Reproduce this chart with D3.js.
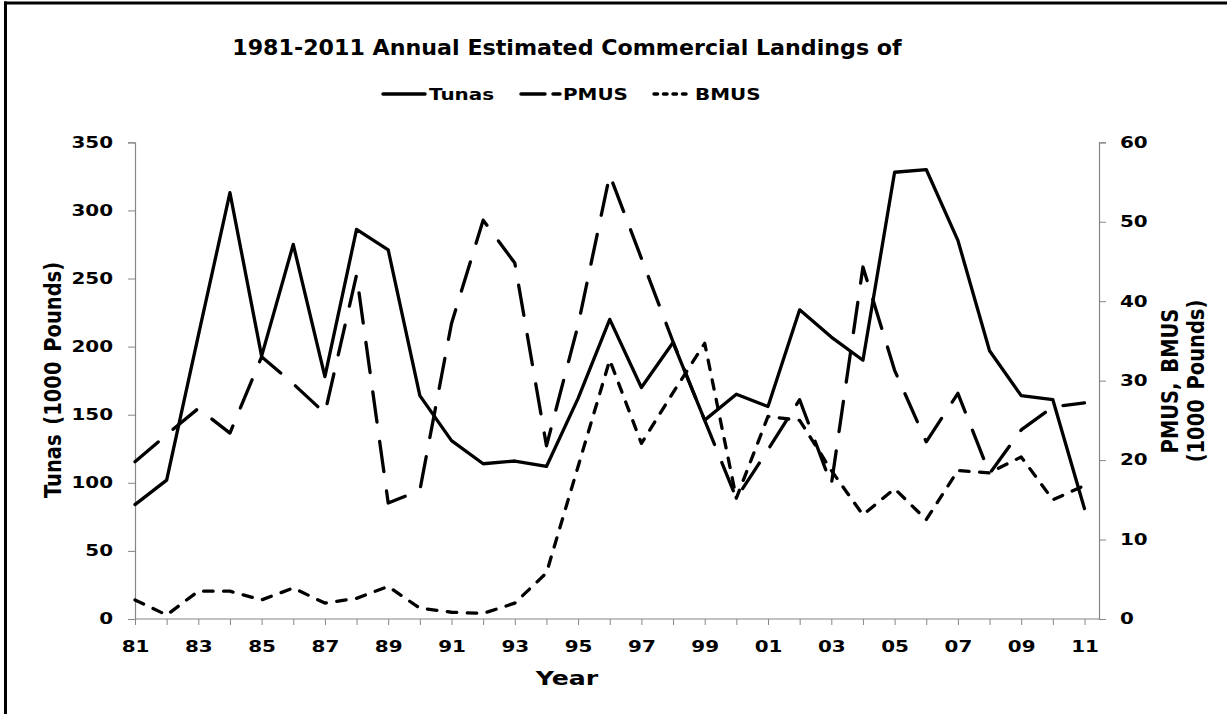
<!DOCTYPE html>
<html>
<head>
<meta charset="utf-8">
<script src="https://cdn.jsdelivr.net/npm/d3@7"></script>
<style>
  html, body { margin: 0; padding: 0; background: #fff; }
  svg { display: block; }
  text { font-family: "DejaVu Sans", Verdana, sans-serif; font-weight: bold; fill: #000; }
</style>
</head>
<body>
<svg id="chart" width="1227" height="714"></svg>
<script>
// ---------------- data ----------------
const years = [1981,1982,1983,1984,1985,1986,1987,1988,1989,1990,1991,1992,1993,1994,1995,1996,
               1997,1998,1999,2000,2001,2002,2003,2004,2005,2006,2007,2008,2009,2010,2011];
const tunas = [84,102,208,313,193,275,178,286,271,164,131,114,116,112,162,220,
               170,203,146,165,156,227,207,190,328,330,278,197,164,161,81];
const pmus  = [19.8,23.2,26.5,23.4,33.0,29.6,25.9,43.3,14.6,16.2,37.2,50.2,44.8,21.8,37.0,55.9,
               45.4,34.9,25.0,15.2,21.3,27.6,16.9,44.3,31.3,22.3,28.4,18.3,23.8,26.7,27.2];
const bmus  = [2.4,0.5,3.5,3.5,2.4,3.9,2.0,2.6,4.1,1.35,0.85,0.7,2.0,5.8,19.2,32.6,
               22.1,28.5,34.7,15.2,25.5,25.0,18.7,13.1,16.4,12.5,18.7,18.4,20.4,15.0,16.8];
const leftTicks  = [0,50,100,150,200,250,300,350];
const rightTicks = [0,10,20,30,40,50,60];
const xTickLabels = ["81","83","85","87","89","91","93","95","97","99","01","03","05","07","09","11"];
const seriesNames = ["Tunas","PMUS","BMUS"];
const titleText = "1981-2011 Annual Estimated Commercial Landings of";

// ---------------- layout ----------------
const SX = 1.33;               // horizontal stretch of the reference glyphs
const plotL = 135, plotR = 1099, plotT = 142.3, plotB = 619;
const axisGray = "#868686";

const svg = d3.select("#chart");

const x = d3.scaleLinear().domain([1981, 2011]).range([plotL, 1084.5]);
const yL = d3.scaleLinear().domain([0, 350]).range([plotB, plotT]);
const yR = d3.scaleLinear().domain([0, 60]).range([plotB, plotT]);

// frame (top & left borders)
svg.append("line").attr("x1", 4).attr("x2", 1227).attr("y1", 3).attr("y2", 3)
   .attr("stroke", "#000").attr("stroke-width", 3);
svg.append("line").attr("x1", 5.5).attr("x2", 5.5).attr("y1", 1.5).attr("y2", 714)
   .attr("stroke", "#000").attr("stroke-width", 3);

function sText(g, str, tx, ty, size, anchor, sx) {
  return g.append("text")
    .attr("transform", `translate(${tx},${ty}) scale(${sx || SX},1)`)
    .attr("text-anchor", anchor || "middle")
    .style("font-size", size + "px")
    .text(str);
}

// title: glyph height as in reference, stretched to the reference width
const title = sText(svg, titleText, 567, 54.5, 22, "middle", 1);
const tw = title.node().getComputedTextLength();
title.attr("transform", `translate(567,54.5) scale(${670 / tw},1)`);

// ---------------- axes ----------------
const labelMap = {};
years.forEach(y => { if (y % 2 === 1) labelMap[y] = xTickLabels[(y - 1981) / 2]; });

const gx = svg.append("g").attr("transform", `translate(0,${plotB})`)
  .call(d3.axisBottom(x).tickValues(years).tickSize(6).tickFormat(d => labelMap[d] || ""));
gx.select(".domain").remove();
gx.selectAll(".tick line").attr("stroke", axisGray);
gx.selectAll(".tick text").attr("y", 0).attr("dy", 0)
  .attr("transform", `translate(0,32.5) scale(${SX},1)`).style("font-size", "15px");
svg.append("line").attr("x1", x(1981)).attr("x2", plotR).attr("y1", plotB).attr("y2", plotB)
  .attr("stroke", axisGray).attr("stroke-width", 1.2);

const gl = svg.append("g").attr("transform", `translate(${plotL},0)`)
  .call(d3.axisLeft(yL).tickValues(leftTicks).tickSize(7));
gl.select(".domain").attr("stroke", axisGray).attr("stroke-width", 1.2);
gl.selectAll(".tick line").attr("stroke", axisGray);
gl.selectAll(".tick text").attr("x", 0)
  .attr("transform", `translate(-22,0) scale(${SX},1)`).style("font-size", "15px");

const gr = svg.append("g").attr("transform", `translate(${plotR},0)`)
  .call(d3.axisRight(yR).tickValues(rightTicks).tickSize(7));
gr.select(".domain").attr("stroke", axisGray).attr("stroke-width", 1.2);
gr.selectAll(".tick line").attr("stroke", axisGray);
gr.selectAll(".tick text").attr("x", 0)
  .attr("transform", `translate(21,0) scale(${SX},1)`).style("font-size", "15px");
svg.selectAll(".tick text").style("font-family", "'DejaVu Sans', Verdana, sans-serif").style("font-weight", "bold").attr("fill", "#000");

// axis titles
sText(svg, "Year", 567, 685, 19, "middle");
function vText(str, tx, ty, size) {
  svg.append("text")
    .attr("transform", `translate(${tx},${ty}) scale(1.2,1) rotate(-90)`)
    .attr("text-anchor", "middle").attr("dy", "0.36em")
    .style("font-size", size + "px").style("word-spacing", "3px").text(str);
}
vText("Tunas (1000 Pounds)", 53, 380, 19.5);
vText("PMUS, BMUS", 1170, 381, 19.5);
vText("(1000 Pounds)", 1196, 381, 19.5);

// ---------------- series ----------------
const styles = {
  Tunas: { dash: null,         legendDash: null },
  PMUS:  { dash: "30.5,19.5",  legendDash: "24,8" },
  BMUS:  { dash: "9.5,10.5",   legendDash: "3.5,6" }
};
const lineL = d3.line().x((d, i) => x(years[i])).y(d => yL(d));
const lineR = d3.line().x((d, i) => x(years[i])).y(d => yR(d));

[["BMUS", bmus, lineR], ["PMUS", pmus, lineR], ["Tunas", tunas, lineL]].forEach(([name, vals, gen]) => {
  svg.append("path").datum(vals).attr("d", gen)
    .attr("fill", "none").attr("stroke", "#000").attr("stroke-width", 3.3)
    .attr("stroke-linejoin", "round").attr("stroke-linecap", "round")
    .attr("stroke-dasharray", styles[name].dash);
});

// ---------------- legend ----------------
const legendPos = [[383, 425, 429], [521, 560, 563], [654, 692, 695]];
seriesNames.forEach((name, i) => {
  const [a, b, t] = legendPos[i];
  svg.append("line").attr("x1", a).attr("x2", b).attr("y1", 94).attr("y2", 94)
    .attr("stroke", "#000").attr("stroke-width", 3.5).attr("stroke-linecap", "round")
    .attr("stroke-dasharray", styles[name].legendDash);
  sText(svg, name, t, 99.5, 15, "start");
});
</script>
</body>
</html>
